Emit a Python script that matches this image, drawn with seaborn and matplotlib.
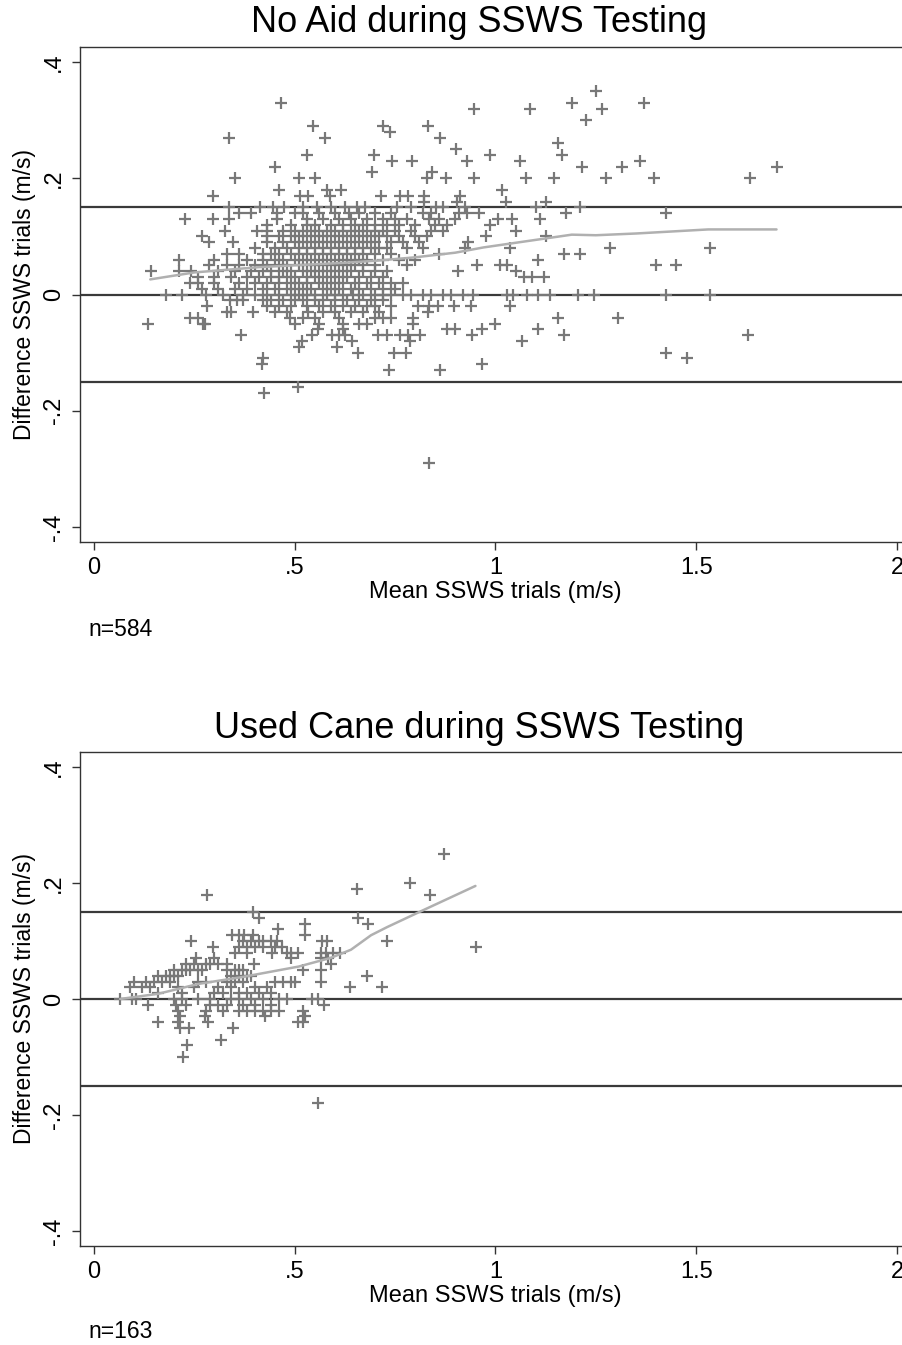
import numpy as np
import pandas as pd
import matplotlib
matplotlib.use("Agg")
import matplotlib.pyplot as plt
import seaborn as sns

# ---- data (diff value -> list of mean values) ----
noaid_rows = [
    (0.35, [1.25]),
    (0.33, [0.465, 1.19, 1.37]),
    (0.32, [0.946, 1.086, 1.265]),
    (0.30, [1.225]),
    (0.29, [0.545, 0.72, 0.833]),
    (0.28, [0.737]),
    (0.27, [0.335, 0.575, 0.862]),
    (0.26, [1.156]),
    (0.25, [0.902]),
    (0.24, [0.53, 0.697, 0.986, 1.166]),
    (0.23, [0.741, 0.793, 0.93, 1.061, 1.36]),
    (0.22, [0.45, 1.215, 1.314, 1.702]),
    (0.21, [0.693, 0.841]),
    (0.20, [0.35, 0.51, 0.55, 0.829, 0.877, 0.946, 1.076, 1.146, 1.275, 1.395, 1.634]),
    (0.18, [0.461, 0.58, 0.614, 1.015]),
    (0.17, [0.296, 0.513, 0.532, 0.588, 0.714, 0.762, 0.783, 0.822, 0.911]),
    (0.16, [0.822, 0.903, 1.026, 1.126]),
    (0.15, [0.335, 0.413, 0.447, 0.472, 0.52, 0.555, 0.59, 0.625, 0.655, 0.675,
            0.754, 0.79, 0.853, 0.87, 0.924, 1.1, 1.21]),
    (0.14, [0.36, 0.39, 0.455, 0.50, 0.52, 0.56, 0.60, 0.635, 0.66, 0.70, 0.74,
            0.82, 0.84, 0.91, 0.93, 0.96, 1.176, 1.424]),
    (0.13, [0.227, 0.296, 0.335, 0.455, 0.53, 0.57, 0.61, 0.64, 0.68, 0.72, 0.75,
            0.78, 0.835, 0.86, 0.90, 1.007, 1.04, 1.111]),
    (0.12, [0.43, 0.49, 0.53, 0.55, 0.59, 0.62, 0.65, 0.67, 0.70, 0.73, 0.76,
            0.80, 0.85, 0.88, 0.986]),
    (0.11, [0.325, 0.405, 0.43, 0.47, 0.50, 0.52, 0.54, 0.56, 0.58, 0.60, 0.62,
            0.64, 0.66, 0.68, 0.70, 0.72, 0.75, 0.79, 0.84, 0.87, 1.051]),
    (0.10, [0.268, 0.43, 0.461, 0.49, 0.51, 0.53, 0.55, 0.57, 0.59, 0.61, 0.63,
            0.65, 0.67, 0.69, 0.71, 0.73, 0.76, 0.80, 0.83, 0.976, 1.127]),
    (0.09, [0.286, 0.347, 0.43, 0.47, 0.50, 0.52, 0.54, 0.56, 0.58, 0.60, 0.62,
            0.64, 0.66, 0.68, 0.70, 0.74, 0.77, 0.81, 0.932]),
    (0.08, [0.40, 0.45, 0.48, 0.51, 0.53, 0.55, 0.57, 0.59, 0.61, 0.63, 0.65,
            0.67, 0.69, 0.71, 0.73, 0.78, 0.82, 0.924, 1.036, 1.285, 1.534]),
    (0.07, [0.33, 0.36, 0.42, 0.44, 0.46, 0.49, 0.51, 0.53, 0.55, 0.57, 0.59,
            0.61, 0.63, 0.65, 0.67, 0.70, 0.74, 0.86, 1.171, 1.21]),
    (0.06, [0.212, 0.30, 0.38, 0.42, 0.45, 0.47, 0.50, 0.52, 0.54, 0.56, 0.58,
            0.60, 0.62, 0.64, 0.66, 0.68, 0.72, 0.76, 0.80, 1.107]),
    (0.05, [0.286, 0.33, 0.36, 0.40, 0.43, 0.46, 0.48, 0.51, 0.53, 0.55, 0.57,
            0.59, 0.61, 0.63, 0.65, 0.67, 0.70, 0.78, 0.953, 1.011, 1.028, 1.40, 1.45]),
    (0.04, [0.141, 0.212, 0.242, 0.31, 0.35, 0.39, 0.42, 0.44, 0.47, 0.49, 0.52,
            0.54, 0.56, 0.58, 0.60, 0.62, 0.64, 0.67, 0.70, 0.73, 0.907, 1.05]),
    (0.03, [0.26, 0.30, 0.34, 0.38, 0.41, 0.44, 0.46, 0.48, 0.50, 0.53, 0.55,
            0.57, 0.59, 0.61, 0.63, 0.66, 0.69, 0.72, 1.07, 1.09, 1.12]),
    (0.02, [0.239, 0.26, 0.30, 0.36, 0.40, 0.43, 0.46, 0.49, 0.51, 0.53, 0.56,
            0.58, 0.60, 0.62, 0.65, 0.68, 0.71, 0.74, 0.77]),
    (0.01, [0.27, 0.31, 0.35, 0.38, 0.42, 0.45, 0.48, 0.50, 0.52, 0.54, 0.57,
            0.59, 0.61, 0.64, 0.66, 0.69, 0.72, 0.75]),
    (0.00, [0.18, 0.22, 0.28, 0.32, 0.37, 0.40, 0.43, 0.46, 0.49, 0.51, 0.53,
            0.55, 0.58, 0.60, 0.62, 0.646, 0.67, 0.70, 0.72, 0.74, 0.77, 0.79,
            0.82, 0.84, 0.87, 0.89, 0.92, 0.945, 1.028, 1.044, 1.078, 1.107,
            1.136, 1.206, 1.245, 1.424, 1.534]),
    (-0.01, [0.339, 0.355, 0.372, 0.42, 0.44, 0.47, 0.50, 0.52, 0.55, 0.57,
             0.60, 0.63, 0.66, 0.69, 0.72]),
    (-0.02, [0.281, 0.43, 0.46, 0.49, 0.53, 0.56, 0.59, 0.62, 0.65, 0.68, 0.70,
             0.74, 0.808, 0.834, 0.858, 0.897, 0.938, 1.036]),
    (-0.03, [0.33, 0.34, 0.397, 0.45, 0.48, 0.534, 0.57, 0.60, 0.64, 0.67, 0.71, 0.833]),
    (-0.04, [0.239, 0.26, 0.488, 0.52, 0.55, 0.609, 0.70, 0.72, 0.74, 0.795, 1.156, 1.306]),
    (-0.05, [0.135, 0.272, 0.276, 0.50, 0.56, 0.62, 0.66, 0.68, 0.795, 1.0]),
    (-0.06, [0.559, 0.62, 0.878, 0.899, 0.967, 1.107]),
    (-0.07, [0.366, 0.542, 0.592, 0.609, 0.625, 0.708, 0.729, 0.762, 0.783,
             0.812, 0.942, 1.171, 1.628]),
    (-0.08, [0.517, 0.642, 0.787, 1.067]),
    (-0.09, [0.51, 0.604]),
    (-0.10, [0.658, 0.748, 0.777, 1.424]),
    (-0.11, [0.42, 1.478]),
    (-0.12, [0.418, 0.967]),
    (-0.13, [0.735, 0.862]),
    (-0.16, [0.509]),
    (-0.17, [0.423]),
    (-0.29, [0.835]),
]

cane_rows = [
    (0.25, [0.872]),
    (0.20, [0.787]),
    (0.19, [0.654]),
    (0.18, [0.281, 0.837]),
    (0.15, [0.395]),
    (0.14, [0.412, 0.658]),
    (0.13, [0.525, 0.683]),
    (0.12, [0.459]),
    (0.11, [0.343, 0.36, 0.374, 0.395, 0.525]),
    (0.10, [0.241, 0.37, 0.39, 0.41, 0.42, 0.44, 0.455, 0.567, 0.58, 0.729]),
    (0.09, [0.297, 0.36, 0.38, 0.40, 0.42, 0.45, 0.467, 0.952]),
    (0.08, [0.351, 0.38, 0.444, 0.48, 0.49, 0.507, 0.566, 0.578, 0.595, 0.612]),
    (0.07, [0.254, 0.30, 0.49, 0.566, 0.583]),
    (0.06, [0.23, 0.25, 0.28, 0.29, 0.31, 0.33, 0.398, 0.59]),
    (0.05, [0.20, 0.22, 0.23, 0.24, 0.26, 0.27, 0.33, 0.35, 0.36, 0.37, 0.52, 0.566]),
    (0.04, [0.16, 0.18, 0.19, 0.20, 0.21, 0.34, 0.36, 0.38, 0.39, 0.679]),
    (0.03, [0.10, 0.13, 0.15, 0.17, 0.19, 0.26, 0.28, 0.33, 0.35, 0.37, 0.45,
            0.47, 0.49, 0.50, 0.566]),
    (0.02, [0.09, 0.12, 0.14, 0.21, 0.25, 0.31, 0.34, 0.40, 0.43, 0.638, 0.718]),
    (0.01, [0.16, 0.22, 0.30, 0.32, 0.36, 0.38, 0.41, 0.44]),
    (0.00, [0.065, 0.095, 0.105, 0.20, 0.22, 0.26, 0.29, 0.34, 0.36, 0.39, 0.42,
            0.46, 0.48, 0.542, 0.558]),
    (-0.01, [0.135, 0.205, 0.23, 0.29, 0.31, 0.33, 0.37, 0.40, 0.44, 0.573]),
    (-0.02, [0.21, 0.28, 0.32, 0.36, 0.38, 0.40, 0.42, 0.44, 0.46, 0.521]),
    (-0.03, [0.215, 0.277, 0.426, 0.525]),
    (-0.04, [0.16, 0.21, 0.285, 0.509, 0.52]),
    (-0.05, [0.214, 0.236, 0.345]),
    (-0.07, [0.315]),
    (-0.08, [0.231]),
    (-0.10, [0.221]),
    (-0.18, [0.559]),
]

# lowess curves
noaid_lowess_x = [0.14, 0.25, 0.41, 0.52, 0.61, 0.70, 0.80, 0.90, 0.97, 1.08, 1.19, 1.25, 1.35, 1.53, 1.70]
noaid_lowess_y = [0.026, 0.038, 0.047, 0.051, 0.054, 0.058, 0.064, 0.072, 0.081, 0.092, 0.103, 0.102, 0.105, 0.112, 0.112]
cane_lowess_x = [0.065, 0.16, 0.26, 0.37, 0.51, 0.59, 0.64, 0.69, 0.73, 0.81, 0.95]
cane_lowess_y = [0.0, 0.009, 0.026, 0.038, 0.056, 0.071, 0.085, 0.110, 0.124, 0.150, 0.195]

limits = [-0.15, 0.0, 0.15]
panel_titles = ["No Aid during SSWS Testing", "Used Cane during SSWS Testing"]
panel_notes = ["n=584", "n=163"]
x_ticks = [0, 0.5, 1, 1.5, 2]
x_ticklabels = ["0", ".5", "1", "1.5", "2"]
y_ticks = [-0.4, -0.2, 0, 0.2, 0.4]
y_ticklabels = ["-.4", "-.2", "0", ".2", ".4"]


def rows_to_frame(rows):
    mean, diff = [], []
    for d, xs in rows:
        mean.extend(xs)
        diff.extend([d] * len(xs))
    return pd.DataFrame({"mean": mean, "diff": diff})


sns.set_theme(style="white")
plt.rcParams["font.family"] = ["Liberation Sans", "DejaVu Sans"]
plt.rcParams["text.color"] = "black"
plt.rcParams["axes.labelcolor"] = "black"
plt.rcParams["xtick.color"] = "black"
plt.rcParams["ytick.color"] = "black"

fig = plt.figure(figsize=(9.03, 13.45), dpi=100)
ax_top = fig.add_axes([80 / 903, 1 - 542 / 1345, 831 / 903, 495 / 1345])
ax_bot = fig.add_axes([80 / 903, 1 - 1246 / 1345, 831 / 903, 494 / 1345])

panels = [
    (ax_top, rows_to_frame(noaid_rows), noaid_lowess_x, noaid_lowess_y, 22, 630),
    (ax_bot, rows_to_frame(cane_rows), cane_lowess_x, cane_lowess_y, 728, 1332),
]

for i, (ax, df, lx, ly, title_y, note_y) in enumerate(panels):
    for lim in limits:
        ax.axhline(lim, color="#3a3a3a", lw=1.6, zorder=1)
    sns.scatterplot(data=df, x="mean", y="diff", marker="+", s=85,
                    color="#787878", linewidth=1.6, ax=ax, zorder=3)
    sns.lineplot(x=lx, y=ly, color="#b0b0b0", lw=1.8, ax=ax, zorder=4)

    ax.set_xlim(-0.035, 2.035)
    ax.set_ylim(-0.426, 0.426)
    ax.set_xticks(x_ticks)
    ax.set_xticklabels(x_ticklabels, fontsize=17)
    ax.set_yticks(y_ticks)
    ax.set_yticklabels(y_ticklabels, fontsize=17, rotation=90, va="center")
    ax.tick_params(axis="both", direction="out", length=6, width=1,
                   color="#333333", pad=5, left=True, bottom=True)
    ax.set_xlabel("Mean SSWS trials (m/s)", fontsize=17, labelpad=1)
    ax.set_ylabel("Difference SSWS trials (m/s)", fontsize=16.5, labelpad=5)
    for sp in ax.spines.values():
        sp.set_color("#333333")
        sp.set_linewidth(1.0)

    fig.text(479 / 903, 1 - title_y / 1345, panel_titles[i], fontsize=26,
             ha="center", va="center")
    fig.text(88 / 903, 1 - note_y / 1345, panel_notes[i], fontsize=16.5,
             ha="left", va="center")

fig.savefig("out.png", dpi=100, facecolor="white")
